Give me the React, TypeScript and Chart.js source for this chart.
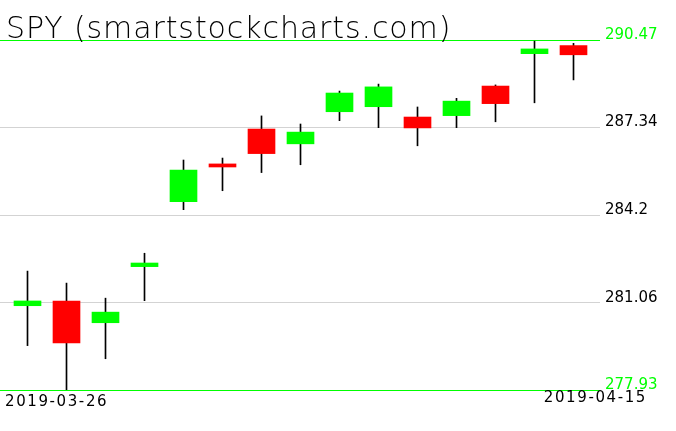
import React, { useEffect, useRef } from "react";
import { Chart, registerables } from "chart.js";

Chart.register(...registerables);

const titleText = "SPY (smartstockcharts.com)";
const categories = [
  "2019-03-26", "2019-03-27", "2019-03-28", "2019-03-29", "2019-04-01",
  "2019-04-02", "2019-04-03", "2019-04-04", "2019-04-05", "2019-04-08",
  "2019-04-09", "2019-04-10", "2019-04-11", "2019-04-12", "2019-04-15",
];
const openValues = [280.95, 281.12, 280.34, 282.35, 284.68, 286.03, 287.28, 286.75, 287.9, 288.08, 287.71, 287.76, 288.82, 289.98, 290.27];
const highValues = [282.19, 281.76, 281.22, 282.83, 286.17, 286.24, 287.75, 287.46, 288.64, 288.89, 288.07, 288.38, 288.86, 290.43, 290.35];
const lowValues = [279.52, 277.93, 279.05, 281.13, 284.39, 285.07, 285.72, 286.0, 287.58, 287.33, 286.68, 287.33, 287.54, 288.22, 289.04];
const closeValues = [281.12, 279.62, 280.72, 282.48, 285.81, 285.92, 286.4, 287.17, 288.57, 288.79, 287.32, 288.28, 288.19, 290.15, 289.94];
const yTickValues = [277.93, 281.06, 284.2, 287.34, 290.47];
const yTickLabels = ["277.93", "281.06", "284.2", "287.34", "290.47"];

const GREEN = "#00ff00";
const RED = "#ff0000";

export default function App() {
  const ref = useRef<HTMLCanvasElement | null>(null);
  useEffect(() => {
    document.body.style.margin = "0";
    const canvas = ref.current!;
    const upColors = openValues.map((o, i) => (closeValues[i] >= o ? GREEN : RED));
    const last = yTickValues.length - 1;
    const textPlugin = {
      id: "texts",
      afterDraw(chart: any) {
        const ctx = chart.ctx as CanvasRenderingContext2D;
        const area = chart.chartArea;
        ctx.save();
        ctx.fillStyle = "#000";
        ctx.textBaseline = "alphabetic";
        ctx.textAlign = "left";
        ctx.font = '200 30px "DejaVu Sans ExtraLight", "DejaVu Sans", sans-serif';
        (ctx as any).letterSpacing = "0.9px";
        ctx.fillText(titleText, area.left + 6, area.top - 2);
        ctx.font = '15px "DejaVu Sans", sans-serif';
        (ctx as any).letterSpacing = "1.6px";
        ctx.fillText(categories[0], area.left + 5, area.bottom + 16);
        ctx.textAlign = "right";
        ctx.fillText(categories[categories.length - 1], area.right + 47, area.bottom + 12);
        ctx.restore();
      },
    };
    const chart = new Chart(canvas, {
      type: "bar",
      data: {
        datasets: [
          {
            label: "wick",
            data: categories.map((_, i) => ({ x: i, y: [lowValues[i], highValues[i]] })) as any,
            backgroundColor: "#000000",
            barThickness: 1,
            grouped: false,
            borderWidth: 0,
            order: 2,
          },
          {
            label: "body",
            data: categories.map((_, i) => ({ x: i, y: [openValues[i], closeValues[i]] })) as any,
            backgroundColor: upColors,
            barThickness: 27,
            grouped: false,
            borderWidth: 0,
            order: 1,
          },
        ],
      },
      options: {
        animation: false,
        responsive: false,
        devicePixelRatio: 1,
        layout: { padding: { top: 40, bottom: 41, left: 0, right: 0 } },
        plugins: { legend: { display: false }, tooltip: { enabled: false }, title: { display: false } },
        scales: {
          x: {
            type: "linear",
            display: false,
            offset: false,
            min: -27.5 / 39,
            max: 572.5 / 39,
          },
          y: {
            type: "linear",
            position: "right",
            z: 1,
            min: yTickValues[0],
            max: yTickValues[last],
            afterBuildTicks: (scale: any) => {
              scale.ticks = yTickValues.map((v) => ({ value: v }));
            },
            afterFit: (scale: any) => {
              scale.width = 76;
            },
            border: { display: false },
            grid: {
              drawTicks: false,
              lineWidth: 1,
              color: (c: any) => (c.index === 0 || c.index === last ? GREEN : "#d3d3d3"),
            },
            ticks: {
              padding: 5,
              labelOffset: -5,
              font: { family: '"DejaVu Sans", sans-serif', size: 15 },
              color: (c: any) => (c.index === 0 || c.index === last ? GREEN : "#000000"),
              callback: (_v: any, i: number) => yTickLabels[i],
            },
          },
        },
      },
      plugins: [textPlugin],
    });
    return () => chart.destroy();
  }, []);
  return (
    <div style={{ width: 676, height: 431 }}>
      <canvas ref={ref} width={676} height={431} style={{ display: "block" }} />
    </div>
  );
}
